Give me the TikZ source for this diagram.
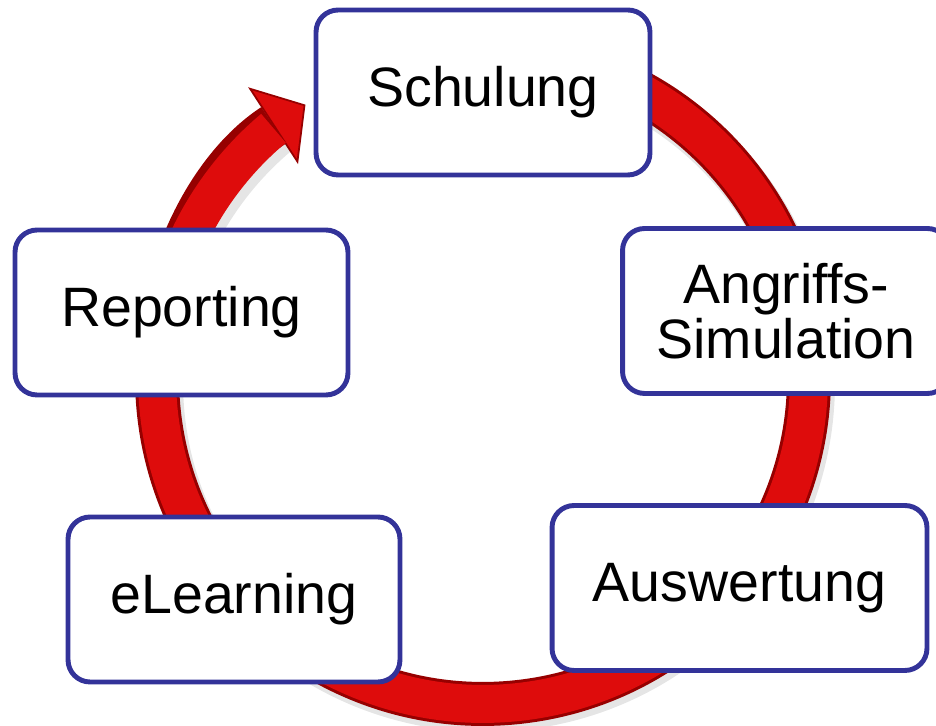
\documentclass[tikz,border=0pt]{standalone}
\usepackage{fontspec}
\setmainfont{Liberation Sans}
\usetikzlibrary{arrows.meta}
\definecolor{boxblue}{RGB}{51,51,153}
\definecolor{ringred}{RGB}{222,12,12}
\definecolor{ringdark}{RGB}{150,0,0}

\begin{document}
\begin{tikzpicture}[x=0.02cm, y=0.02cm,
  stage/.style={draw=boxblue, line width=2.8pt, fill=white, rounded corners=0.44cm,
    minimum height=3.3cm, align=center, inner sep=0pt,
    font=\fontsize{31.6}{31.6}\selectfont}]
\useasboundingbox (0,0) rectangle (936,726);
\clip (0,0) rectangle (936,726);
% ring
\coordinate (m) at (483,348);
\draw[gray!20, line width=0.92cm] ([shift={(3,-5)}]m) ++(95:6.52cm) arc[start angle=95, end angle=-231, radius=6.52cm];
\draw[ringdark, line width=0.88cm, -{Triangle[length=22pt, width=52pt, line width=1pt, fill=ringred]}]
  (m) ++(95:6.52cm) arc[start angle=95, end angle=-237, radius=6.52cm];
\draw[ringred, line width=0.76cm] (m) ++(95:6.52cm) arc[start angle=95, end angle=-230, radius=6.52cm];
% stages
\node[stage, minimum width=6.68cm] (schulung) at (483,633.5) {Schulung};
\node[stage, minimum width=6.54cm] (angriff) at (786,415) {Angriffs-\\Simulation};
\node[stage, minimum width=7.5cm] (auswertung) at (739.5,138) {Auswertung};
\node[stage, minimum width=6.64cm] (elearning) at (234,126.5) {eLearning};
\node[stage, minimum width=6.66cm] (reporting) at (181.5,413.5) {Reporting};
\end{tikzpicture}
\end{document}
